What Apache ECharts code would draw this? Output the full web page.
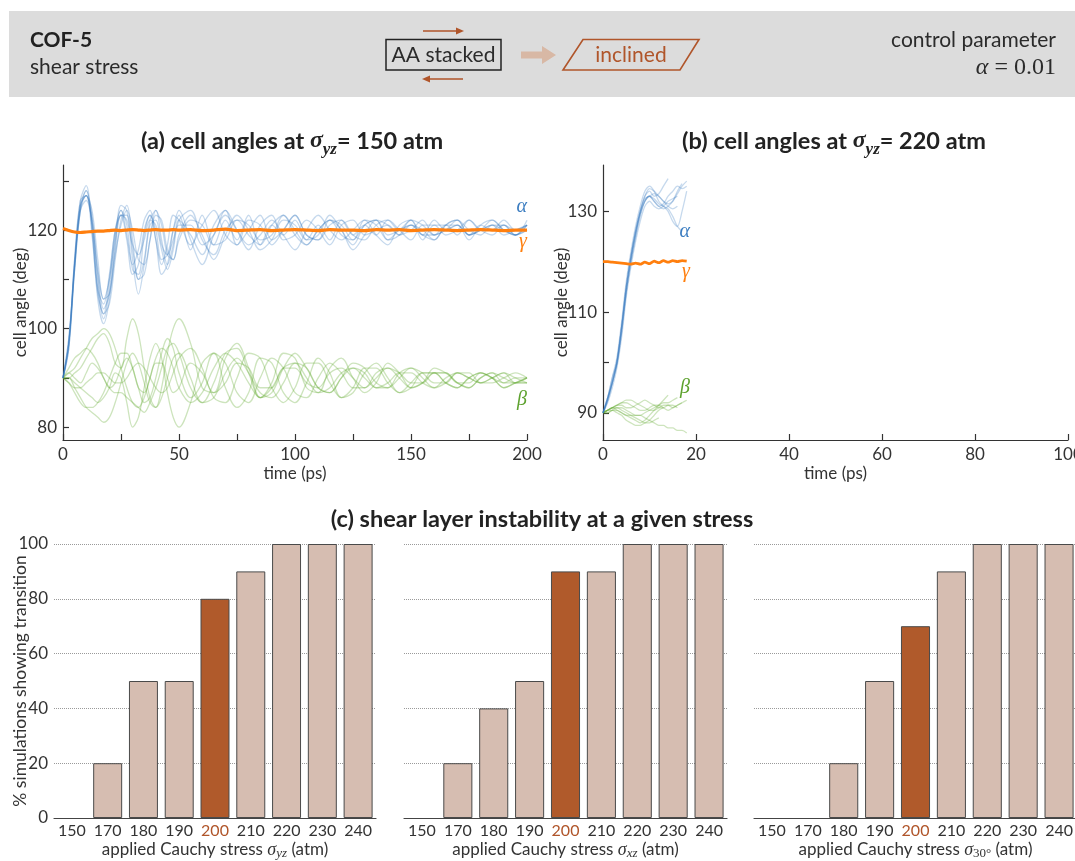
<!DOCTYPE html>
<html><head><meta charset="utf-8">
<script src="https://cdn.jsdelivr.net/npm/echarts@6.0.0/dist/echarts.min.js"></script>
<style>html,body{margin:0;padding:0;background:#fff}#c{width:1075px;height:861px}</style>
</head><body><div id="c"></div>
<script>
// ---------- DATA ----------
const T_A = [0,2.5,5,7.5,10,12.5,15,17.5,20,22.5,25,27.5,30,32.5,35,37.5,40,42.5,45,47.5,50,55,60,65,70,75,80,85,90,95,100,105,110,115,120,125,130,135,140,145,150,155,160,165,170,175,180,185,190,195,200];
const ALPHA_A = [
 [90,97,113,125,127,121,108,102,108,119,124,121,112,111,119,123,120,114,115,120,123,116,123,117,122,118,123,117,121,119,122,118,121,118,122,119,121,119,122,120,121,119,122,120,121,119,121,120,122,120,121],
 [90,96,112,124,128,123,111,104,107,116,123,123,116,110,114,122,124,118,113,117,122,119,115,121,124,117,120,123,118,120,123,119,118,122,121,118,121,122,119,120,122,118,121,121,119,122,120,119,121,120,121],
 [90,97,114,126,129,120,106,101,106,117,125,124,114,107,113,121,122,117,115,118,121,121,117,119,124,120,116,121,123,118,119,122,120,117,121,122,119,120,121,119,121,120,118,121,122,119,120,121,120,119,121],
 [90,98,113,124,126,122,112,106,110,118,123,122,117,115,118,122,121,116,112,116,122,124,118,115,120,122,119,117,121,123,119,117,120,122,120,116,119,122,121,119,120,122,119,120,122,120,119,121,121,119,120],
 [90,97,112,125,127,122,110,103,105,114,122,125,118,110,111,118,124,121,115,114,119,123,119,114,119,123,120,116,118,122,121,118,119,123,120,117,121,122,118,119,122,121,119,120,121,118,121,122,120,119,122],
 [90,96,113,125,128,121,108,105,111,120,124,119,113,116,122,124,118,113,117,123,122,117,121,124,119,117,122,121,117,120,123,119,118,121,122,119,118,121,122,120,118,121,121,119,120,122,120,120,121,119,121],
 [90,97,114,126,127,119,107,103,110,120,123,118,111,113,120,123,118,111,113,120,124,118,113,119,123,120,117,119,122,119,116,120,123,120,118,120,122,119,117,121,122,119,119,121,121,119,120,122,120,119,120],
 [90,98,112,124,127,124,114,106,107,115,121,124,120,114,113,118,123,122,116,114,118,122,121,117,118,122,121,118,119,123,120,117,120,122,119,118,122,121,118,120,121,119,118,121,122,119,120,121,119,120,121]
];
const BETA_A = [
 [90,90,91,92,94,96,98,99,97,93,92,98,102,99,92,86,84,88,95,100,102,97,88,87,94,97,92,86,89,95,94,88,87,92,94,90,87,89,93,91,88,89,92,91,89,88,90,91,89,89,90],
 [90,90,89,88,87,86,85,86,88,91,90,85,80,82,88,94,97,94,87,82,80,85,93,95,88,84,87,94,93,87,85,89,94,91,86,87,91,93,90,87,88,91,91,89,88,90,91,90,88,89,90],
 [90,91,92,94,96,98,99,100,99,96,92,88,85,84,86,90,94,96,95,92,88,85,87,92,95,93,89,86,88,92,93,90,87,88,91,92,90,88,89,91,91,89,88,90,91,90,89,90,91,90,89],
 [90,90,88,86,84,83,82,81,82,85,89,93,95,93,89,85,84,86,90,94,95,90,85,86,91,94,91,87,86,89,93,92,88,87,90,92,91,88,88,91,92,90,88,89,91,90,89,90,91,89,89],
 [90,91,90,89,91,93,92,90,88,89,92,94,92,88,87,90,93,93,90,87,88,93,91,87,89,93,92,88,88,92,92,89,88,91,92,90,88,90,92,91,89,89,91,91,89,89,91,90,89,90,90],
 [90,92,94,95,96,95,93,90,88,87,87,86,85,84,83,85,88,92,96,97,95,88,85,89,95,96,91,86,87,92,95,92,88,87,90,93,92,89,88,90,92,91,89,89,91,91,89,89,90,91,90],
 [90,89,88,88,89,90,91,91,90,89,89,90,92,93,92,90,88,87,88,91,94,96,92,86,85,90,95,94,88,85,88,93,93,89,86,88,92,92,89,87,89,91,91,89,88,90,91,90,88,89,90],
 [90,89,87,85,84,84,85,87,90,93,95,95,92,88,85,86,90,95,98,96,91,86,89,95,93,87,85,90,94,92,87,86,90,93,91,88,88,91,92,90,88,89,91,91,89,88,90,91,90,89,89]
];
const GAMMA_A = [120.3,119.9,119.6,119.5,119.6,119.7,119.8,119.8,119.9,120,119.9,120,120.1,120,119.9,120,120.1,120,120,120.1,120,120.1,119.9,120,120.2,119.9,120,120.1,119.9,120,120.1,120,119.9,120.1,120,120,119.9,120.1,120,120.1,119.9,120,120.1,120,119.9,120,120.1,120,119.9,120,120];

const T_B = [0,1,2,3,4,5,6,7,8,9,10,11,12,13,14,15,16,17,18];
const ALPHA_B = [
 [90,93,96,100,107,115,121,126,130,133,134.5,134,133,132,131.5,132,133.5,135,136],
 [90,92.5,96,99.5,106,114,120,125,129,132,133,132.5,131.5,131,130.5,129,127,126],
 [90,93,97,101,108,116,122,127,131,134,135,134,132,131,130,128,127,130,134],
 [90,92,95,99,105,113,119,124,128,131,132,131,130.5,131,132,132.5,133],
 [90,93,96,100,107,115,121,126,130,133,134,133,133.5,135,136.5],
 [90,92.5,96,100,106,114,120,125,129.5,132,133,132,131,130.5,131,132,134,135.5],
 [90,93,97,100,107,115,121,126,130,132.5,133,133.5,133,132,131,130.5,131],
 [90,92.5,96,100.5,107,114,120.5,125.5,129.5,132,133,132,131,131.5,133,134,135,134.5,135]
];
const BETA_B = [
 [90,90.5,91,91,90.5,90,89.5,89,88.5,88,88,88.5,89],
 [90,90.5,91,91.5,92,92.5,92.5,92,91.5,91,90.5,90.5,91,91.5,91.5,91,91.5,92],
 [90,90.5,91,90.5,90,89.5,89,88.5,88,88.5,89.5,90.5,91.5,92.5,93.5],
 [90,90,90.5,90.5,90,89.5,89.5,89.5,89.5,89,88.5,88,87.5,87.5,87,87,86.5,86.5,86],
 [90,90.5,91,91.5,91.5,91,91,91.5,92,92.5,92,91.5,91,91,91.5,91.5,91],
 [90,90,90.5,91,91,90.5,90,89.5,89.5,90,90.5,91,91.5,92,92,92.5,93],
 [90,90.5,90.5,90,89.5,88.5,88,87.5,87.5,88,88.5,89.5,90.5,91],
 [90,90.5,91,91.5,92,92,91.5,91,90.5,90.5,91,91.5,91.5,91,90.5,91,91.5,92,92.5]
];
const GAMMA_B = [120,120,119.9,119.8,119.7,119.6,119.5,119.7,119.5,119.9,119.6,120.1,119.8,120.2,119.9,120.2,120,120.2,120.1];

const A_YTICKS = [80,90,100,110,120,130];
const A_YLABELS = [80,100,120];
const B_YTICKS = [90,100,110,120,130];
const B_YLABELS = [90,110,130];

const STRESS = ['150','170','180','190','200','210','220','230','240'];
const PCT_YZ = [0,20,50,50,80,90,100,100,100];
const PCT_XZ = [0,20,40,50,90,90,100,100,100];
const PCT_30 = [0,0,20,50,70,90,100,100,100];
const HIGHLIGHT = '200';

// ---------- STYLE ----------
const FONT = 'Lato, "Noto Sans", sans-serif';
const MATH = '"Liberation Serif", "DejaVu Serif", serif';
const INK = '#2b2b2b';
const BLUE = 'rgba(52,120,190,0.28)';
const GREEN = 'rgba(100,170,50,0.32)';
const ORANGE = '#ff7f0e';
const RUST = '#b0552a';

const chart = echarts.init(document.getElementById('c'), null, {renderer: 'canvas'});

const axisBase = {
  axisLine: {show: true, onZero: false, lineStyle: {color: '#333', width: 1.2}},
  axisTick: {show: true, inside: true, length: 6, lineStyle: {color: '#333', width: 1.2}},
  axisLabel: {color: '#333', fontSize: 17, fontFamily: FONT, margin: 6},
  splitLine: {show: false},
  nameMoveOverlap: false,
  nameTextStyle: {color: '#333', fontSize: 17, fontFamily: FONT}
};
function merge(a, b) { return Object.assign({}, a, b); }

const G = {outerBoundsMode: 'none', containLabel: false};
const grids = [
  merge(G, {left: 63, top: 165, width: 464, height: 275}),
  merge(G, {left: 603, top: 165, width: 465, height: 275}),
  merge(G, {left: 54, top: 544, width: 322, height: 274}),
  merge(G, {left: 404, top: 544, width: 323, height: 274}),
  merge(G, {left: 754, top: 544, width: 323, height: 274})
];

const subRich = {
  t: {fontSize: 17, fontFamily: FONT, color: '#333', lineHeight: 20, verticalAlign: 'middle'},
  s: {fontSize: 18, fontFamily: MATH, fontStyle: 'italic', color: '#333', lineHeight: 20, verticalAlign: 'middle'},
  sub: {fontSize: 13, fontFamily: MATH, fontStyle: 'italic', color: '#333', lineHeight: 12, verticalAlign: 'bottom'},
  subu: {fontSize: 13, fontFamily: MATH, color: '#333', lineHeight: 12, verticalAlign: 'bottom'}
};

const xAxes = [
  merge(axisBase, {gridIndex: 0, type: 'value', min: 0, max: 200, interval: 25,
    name: 'time (ps)', nameLocation: 'middle', nameGap: 25,
    axisLabel: merge(axisBase.axisLabel, {formatter: v => (v % 50 === 0 ? String(v) : '')})}),
  merge(axisBase, {gridIndex: 1, type: 'value', min: 0, max: 100, interval: 20,
    name: 'time (ps)', nameLocation: 'middle', nameGap: 25}),
];
const yAxes = [
  merge(axisBase, {gridIndex: 0, type: 'value', min: 77.4, max: 133.2,
    name: 'cell angle (deg)', nameLocation: 'middle', nameGap: 34,
    axisTick: merge(axisBase.axisTick, {customValues: A_YTICKS}),
    axisLabel: merge(axisBase.axisLabel, {customValues: A_YLABELS})}),
  merge(axisBase, {gridIndex: 1, type: 'value', min: 84.6, max: 139.2,
    name: 'cell angle (deg)', nameLocation: 'middle', nameGap: 33,
    axisTick: merge(axisBase.axisTick, {customValues: B_YTICKS}),
    axisLabel: merge(axisBase.axisLabel, {customValues: B_YLABELS})}),
];

const barNames = [
  ['yz', 'sub'], ['xz', 'sub'], ['30°', 'subu']
];
const barData = [PCT_YZ, PCT_XZ, PCT_30];
for (let k = 0; k < 3; k++) {
  xAxes.push({
    gridIndex: 2 + k, type: 'category', data: STRESS,
    axisLine: {show: true, lineStyle: {color: '#444', width: 1.2}},
    axisTick: {show: false},
    axisLabel: {fontSize: 16, fontFamily: FONT, color: '#333', margin: 5, interval: 0,
      formatter: v => (v === HIGHLIGHT ? '{h|' + v + '}' : v),
      rich: {h: {fontSize: 16, fontFamily: FONT, color: RUST}}},
    name: '{t|applied Cauchy stress }{s|σ}{' + barNames[k][1] + '|' + barNames[k][0] + '}{t| (atm)}',
    nameLocation: 'middle', nameGap: 22, nameMoveOverlap: false,
    nameTextStyle: {rich: subRich}
  });
  yAxes.push({
    gridIndex: 2 + k, type: 'value', min: 0, max: 100, interval: 20,
    axisLine: {show: false}, axisTick: {show: false},
    axisLabel: {show: k === 0, fontSize: 17, fontFamily: FONT, color: '#333', margin: 6},
    splitLine: {show: true, lineStyle: {color: '#9a9a9a', type: 'dotted', width: 1}},
    name: k === 0 ? '% simulations showing transition' : '',
    nameLocation: 'middle', nameGap: 25, nameMoveOverlap: false,
    nameTextStyle: {color: '#333', fontSize: 17.5, fontFamily: FONT}
  });
}

const series = [];
function lineSeries(xi, times, vals, color, width, smooth) {
  return {type: 'line', xAxisIndex: xi, yAxisIndex: xi, silent: true,
    data: vals.map((v, i) => [times[i], v]), showSymbol: false, symbol: 'none',
    smooth: smooth, lineStyle: {color: color, width: width}, animation: false, clip: true};
}
BETA_A.forEach(a => series.push(lineSeries(0, T_A, a, GREEN, 1.3, 0.35)));
ALPHA_A.forEach(a => series.push(lineSeries(0, T_A, a, BLUE, 1.3, 0.35)));
series.push(lineSeries(0, T_A, GAMMA_A, ORANGE, 3.2, 0.2));
BETA_B.forEach(a => series.push(lineSeries(1, T_B, a, GREEN, 1.3, 0.3)));
ALPHA_B.forEach(a => series.push(lineSeries(1, T_B, a, BLUE, 1.3, 0.3)));
series.push(lineSeries(1, T_B, GAMMA_B, ORANGE, 2.8, 0.2));

for (let k = 0; k < 3; k++) {
  series.push({
    type: 'bar', xAxisIndex: 2 + k, yAxisIndex: 2 + k, silent: true, animation: false,
    barCategoryGap: '19%',
    data: barData[k].map((v, i) => ({
      value: v,
      itemStyle: {color: STRESS[i] === HIGHLIGHT ? '#b05a2b' : '#d6bdb1',
        borderColor: v === 0 ? 'transparent' : '#4a4a4a', borderWidth: 1}
    }))
  });
}

// ---------- ANNOTATIONS ----------
const titleRich = {
  b: {fontSize: 23.5, fontWeight: 'bold', fontFamily: FONT, fill: '#222', lineHeight: 34, verticalAlign: 'middle'},
  s: {fontSize: 24, fontWeight: 'bold', fontStyle: 'italic', fontFamily: MATH, fill: '#222', lineHeight: 34, verticalAlign: 'middle'},
  sub: {fontSize: 17, fontWeight: 'bold', fontStyle: 'italic', fontFamily: MATH, fill: '#222', lineHeight: 19, verticalAlign: 'bottom'}
};
function txt(x, y, text, opt) {
  return {type: 'text', x: x, y: y, silent: true, z: 100,
    style: Object.assign({text: text, fill: INK, font: '21px ' + FONT, align: 'left', verticalAlign: 'middle'}, opt || {})};
}
const graphic = [
  {type: 'rect', shape: {x: 9, y: 11, width: 1066, height: 86}, style: {fill: '#dcdcdc'}, silent: true, z: 1},
  txt(30, 40, 'COF-5', {font: 'bold 21px ' + FONT, fill: '#222'}),
  txt(30, 67, 'shear stress'),
  {type: 'rect', shape: {x: 386, y: 39.5, width: 115, height: 30.5}, style: {fill: 'none', stroke: '#222', lineWidth: 1.5}, silent: true, z: 5},
  txt(443.5, 55, 'AA stacked', {align: 'center'}),
  {type: 'line', shape: {x1: 423, y1: 31, x2: 459, y2: 31}, style: {stroke: RUST, lineWidth: 1.5}, silent: true, z: 5},
  {type: 'polygon', shape: {points: [[464, 31], [456, 27.5], [456, 34.5]]}, style: {fill: RUST}, silent: true, z: 5},
  {type: 'line', shape: {x1: 427, y1: 79, x2: 463, y2: 79}, style: {stroke: RUST, lineWidth: 1.5}, silent: true, z: 5},
  {type: 'polygon', shape: {points: [[422, 79], [430, 75.5], [430, 82.5]]}, style: {fill: RUST}, silent: true, z: 5},
  {type: 'polygon', shape: {points: [[521, 51.5], [542, 51.5], [542, 46], [556, 55], [542, 64], [542, 58.5], [521, 58.5]]}, style: {fill: '#d8b8a5'}, silent: true, z: 5},
  {type: 'polygon', shape: {points: [[563, 70], [583, 39.5], [699, 39.5], [680, 70]]}, style: {fill: 'none', stroke: RUST, lineWidth: 1.6}, silent: true, z: 5},
  txt(631, 55, 'inclined', {align: 'center', fill: RUST}),
  txt(1056, 40, 'control parameter', {align: 'right'}),
  {type: 'text', x: 1056, y: 68, silent: true, z: 100, style: {text: '{i|α} = 0.01', align: 'right', verticalAlign: 'middle',
    font: '24px ' + MATH, fill: INK, rich: {i: {fontStyle: 'italic', fontSize: 24, fontFamily: MATH, fill: INK}}}},
  {type: 'text', x: 292, y: 141, silent: true, z: 100, style: {text: '{b|(a) cell angles at }{s|σ}{sub|yz}{b|= 150 atm}', align: 'center', verticalAlign: 'middle', rich: titleRich}},
  {type: 'text', x: 834, y: 141, silent: true, z: 100, style: {text: '{b|(b) cell angles at }{s|σ}{sub|yz}{b|= 220 atm}', align: 'center', verticalAlign: 'middle', rich: titleRich}},
  {type: 'text', x: 542, y: 519, silent: true, z: 100, style: {text: '{b|(c) shear layer instability at a given stress}', align: 'center', verticalAlign: 'middle', rich: titleRich}},
  txt(527, 207, 'α', {align: 'right', font: 'italic 20px ' + MATH, fill: '#3a7cc0'}),
  txt(527, 242, 'γ', {align: 'right', font: 'italic 20px ' + MATH, fill: ORANGE}),
  txt(527, 400, 'β', {align: 'right', font: 'italic 20px ' + MATH, fill: '#5ea22f'}),
  txt(690, 232, 'α', {align: 'right', font: 'italic 20px ' + MATH, fill: '#3a7cc0'}),
  txt(690, 272, 'γ', {align: 'right', font: 'italic 20px ' + MATH, fill: ORANGE}),
  txt(690, 388, 'β', {align: 'right', font: 'italic 20px ' + MATH, fill: '#5ea22f'})
];

chart.setOption({
  animation: false,
  backgroundColor: '#fff',
  grid: grids,
  xAxis: xAxes,
  yAxis: yAxes,
  series: series,
  graphic: graphic
});
</script></body></html>
